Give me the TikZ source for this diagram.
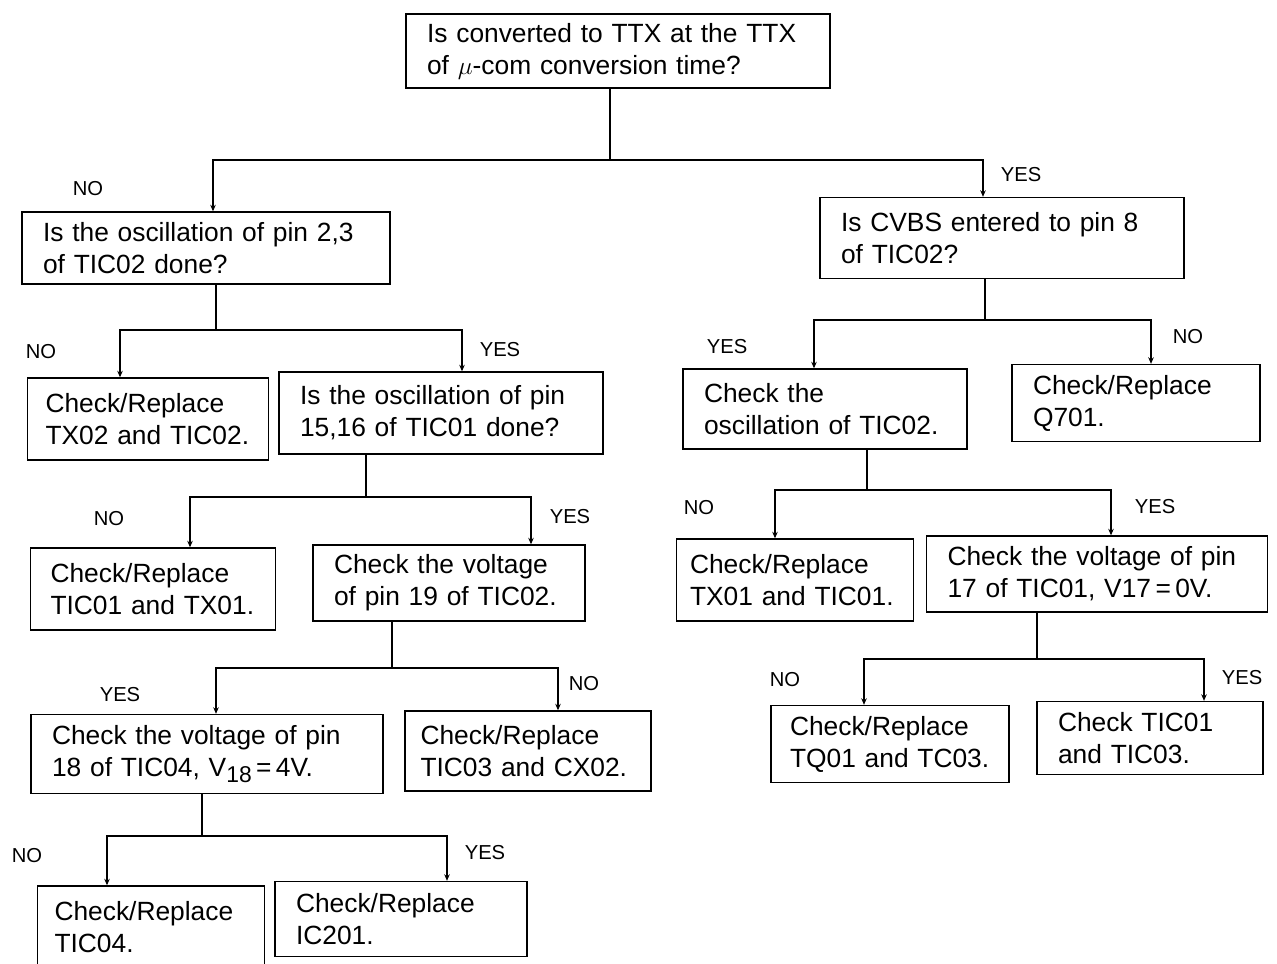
\documentclass[tikz,border=0pt]{standalone}
\usepackage{fontspec}
\setmainfont{Liberation Sans}
\usetikzlibrary{arrows.meta}

\begin{document}
\begin{tikzpicture}[x=0.02cm, y=-0.02cm,
    % Node styles
    box/.style={rectangle, draw, line width=0.8pt, align=left, inner xsep=0.42cm,
                inner ysep=0pt, font=\fontsize{15}{18.2}\selectfont},
    answer/.style={font=\fontsize{11.5}{13}\selectfont, inner sep=1pt},
    link/.style={line width=0.8pt},
    arrow/.style={-{Stealth[length=1.3mm, width=1.1mm]}, line width=0.8pt}
]
\useasboundingbox (0,0) rectangle (1277,963);

% Top question
\node[box, text width=7.64cm, minimum height=1.48cm] (conv) at (618,51)
    {Is converted to TTX at the TTX\\of $\mu$-com conversion time?};

% Left branch: NO
\node[box, text width=6.52cm, minimum height=1.44cm] (osc23) at (206,248)
    {Is the oscillation of pin 2,3\\of TIC02 done?};
\node[box, inner xsep=0.36cm, text width=4.10cm, minimum height=1.64cm] (tx02) at (148,419)
    {Check/Replace\\TX02 and TIC02.};
\node[box, text width=5.64cm, minimum height=1.64cm] (osc1516) at (441,413)
    {Is the oscillation of pin\\15,16 of TIC01 done?};
\node[box, inner xsep=0.40cm, text width=4.10cm, minimum height=1.64cm] (tic01) at (153,589)
    {Check/Replace\\TIC01 and TX01.};
\node[box, text width=4.60cm, minimum height=1.52cm] (pin19) at (449,583)
    {Check the voltage\\of pin 19 of TIC02.};
\node[box, text width=6.20cm, minimum height=1.58cm] (pin18) at (207,754)
    {Check the voltage of pin\\18 of TIC04, V\raisebox{-0.4ex}{\fontsize{13}{14}\selectfont 18}\,=\,4V.};
\node[box, inner xsep=0.31cm, text width=4.30cm, minimum height=1.60cm] (tic03) at (528,751)
    {Check/Replace\\TIC03 and CX02.};
\node[box, inner xsep=0.34cm, text width=3.86cm, minimum height=1.64cm] (tic04) at (151,927)
    {Check/Replace\\TIC04.};
\node[box, text width=4.20cm, minimum height=1.50cm] (ic201) at (401,919)
    {Check/Replace\\IC201.};

% Right branch: YES
\node[box, text width=6.44cm, minimum height=1.62cm] (cvbs) at (1002,238)
    {Is CVBS entered to pin 8\\of TIC02?};
\node[box, text width=4.84cm, minimum height=1.60cm] (osc02) at (825,409)
    {Check the\\oscillation of TIC02.};
\node[box, text width=4.12cm, minimum height=1.54cm] (q701) at (1136,403)
    {Check/Replace\\Q701.};
\node[box, inner xsep=0.27cm, text width=4.20cm, minimum height=1.64cm] (tx01) at (795,580)
    {Check/Replace\\TX01 and TIC01.};
\node[box, text width=5.98cm, minimum height=1.52cm] (pin17) at (1097,574)
    {Check the voltage of pin\\17 of TIC01, V17\,=\,0V.};
\node[box, inner xsep=0.38cm, text width=4.00cm, minimum height=1.54cm] (tq01) at (890,744)
    {Check/Replace\\TQ01 and TC03.};
\node[box, text width=3.68cm, minimum height=1.46cm] (tic0103) at (1150,738)
    {Check TIC01\\and TIC03.};

% Answers
\node[answer] (a1) at (88,189) {NO};
\node[answer] (a2) at (1021,175) {YES};
\node[answer] (a3) at (41,352) {NO};
\node[answer] (a4) at (500,350) {YES};
\node[answer] (a5) at (109,519) {NO};
\node[answer] (a6) at (570,517) {YES};
\node[answer] (a7) at (120,695) {YES};
\node[answer] (a8) at (584,684) {NO};
\node[answer] (a9) at (27,856) {NO};
\node[answer] (a10) at (485,853) {YES};
\node[answer] (a11) at (727,347) {YES};
\node[answer] (a12) at (1188,337) {NO};
\node[answer] (a13) at (699,508) {NO};
\node[answer] (a14) at (1155,507) {YES};
\node[answer] (a15) at (785,680) {NO};
\node[answer] (a16) at (1242,678) {YES};

% Fork points
\coordinate (f1) at (610,160);  \coordinate (f1l) at (213,160);  \coordinate (f1r) at (983,160);
\coordinate (f2) at (216,330);  \coordinate (f2l) at (120,330);  \coordinate (f2r) at (462,330);
\coordinate (f3) at (366,497);  \coordinate (f3l) at (190,497);  \coordinate (f3r) at (531,497);
\coordinate (f4) at (392,668);  \coordinate (f4l) at (216,668);  \coordinate (f4r) at (558,668);
\coordinate (f5) at (202,836);  \coordinate (f5l) at (107,836);  \coordinate (f5r) at (447,836);
\coordinate (f6) at (985,320);  \coordinate (f6l) at (814,320);  \coordinate (f6r) at (1151,320);
\coordinate (f7) at (867,490);  \coordinate (f7l) at (775,490);  \coordinate (f7r) at (1111,490);
\coordinate (f8) at (1037,659); \coordinate (f8l) at (864,659);  \coordinate (f8r) at (1204,659);

% Connectors
\draw[link] (conv.south -| f1) -- (f1);
\draw[arrow] (f1) -- (f1l) -- (osc23.north -| f1l);
\draw[arrow] (f1) -- (f1r) -- (cvbs.north -| f1r);

\draw[link] (osc23.south -| f2) -- (f2);
\draw[arrow] (f2) -- (f2l) -- (tx02.north -| f2l);
\draw[arrow] (f2) -- (f2r) -- (osc1516.north -| f2r);

\draw[link] (osc1516.south -| f3) -- (f3);
\draw[arrow] (f3) -- (f3l) -- (tic01.north -| f3l);
\draw[arrow] (f3) -- (f3r) -- (pin19.north -| f3r);

\draw[link] (pin19.south -| f4) -- (f4);
\draw[arrow] (f4) -- (f4l) -- (pin18.north -| f4l);
\draw[arrow] (f4) -- (f4r) -- (tic03.north -| f4r);

\draw[link] (pin18.south -| f5) -- (f5);
\draw[arrow] (f5) -- (f5l) -- (tic04.north -| f5l);
\draw[arrow] (f5) -- (f5r) -- (ic201.north -| f5r);

\draw[link] (cvbs.south -| f6) -- (f6);
\draw[arrow] (f6) -- (f6l) -- (osc02.north -| f6l);
\draw[arrow] (f6) -- (f6r) -- (q701.north -| f6r);

\draw[link] (osc02.south -| f7) -- (f7);
\draw[arrow] (f7) -- (f7l) -- (tx01.north -| f7l);
\draw[arrow] (f7) -- (f7r) -- (pin17.north -| f7r);

\draw[link] (pin17.south -| f8) -- (f8);
\draw[arrow] (f8) -- (f8l) -- (tq01.north -| f8l);
\draw[arrow] (f8) -- (f8r) -- (tic0103.north -| f8r);

\end{tikzpicture}
\end{document}
